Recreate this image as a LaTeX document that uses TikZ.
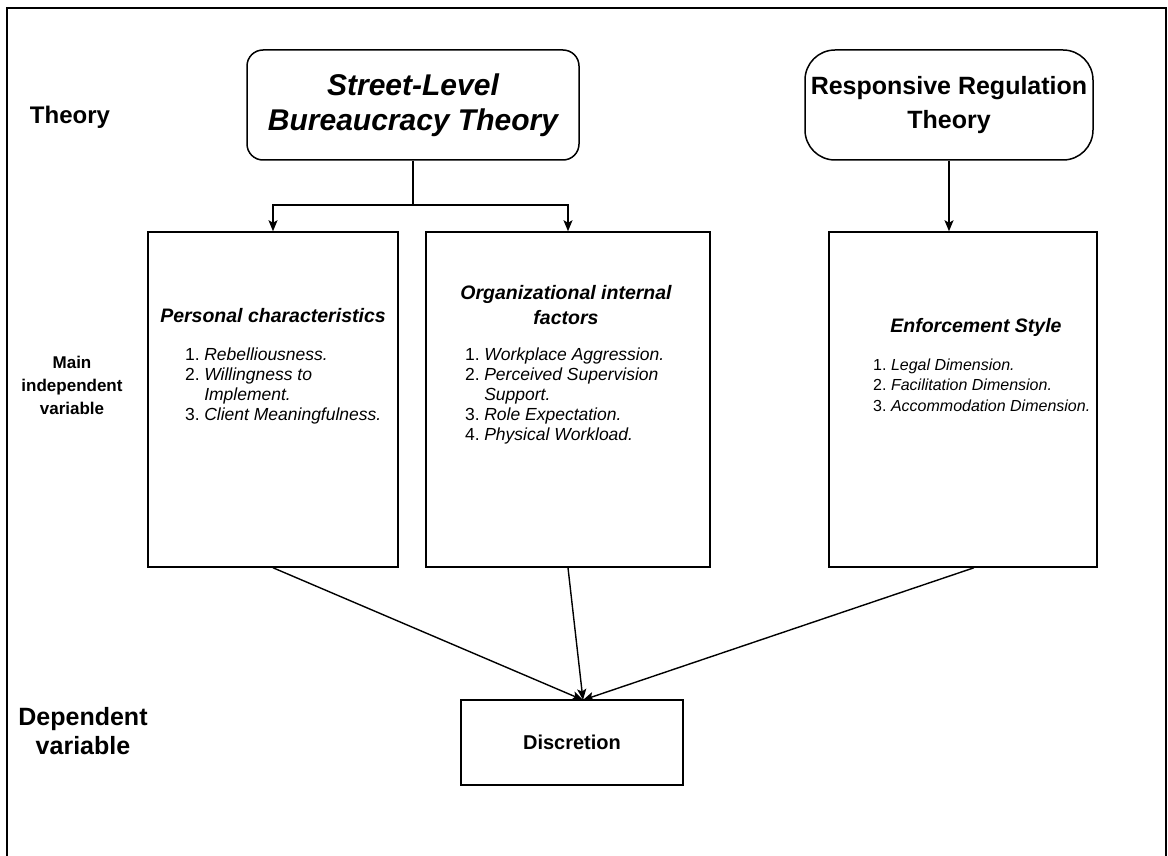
\documentclass[tikz,border=0pt]{standalone}
\usepackage{fontspec}
\setmainfont{Liberation Sans}
\usetikzlibrary{arrows.meta}
\begin{document}
\begin{tikzpicture}[x=1pt,y=-1pt,
  boxs/.style={draw, line width=1.5pt, inner sep=0pt},
  arr/.style={line width=1.4pt, -{Stealth[length=11pt,width=9pt,inset=2.5pt]}},
  lbl/.style={font=\bfseries\fontsize{24}{29}\selectfont, align=center},
  ttl/.style={font=\bfseries\itshape\fontsize{19.5}{25}\selectfont, align=center, inner sep=0pt},
  lst/.style={font=\fontsize{17.5}{20}\selectfont, inner sep=0pt, anchor=base west}]
\useasboundingbox (0,0) rectangle (1168,856);
% frame
\draw[line width=2.2pt] (7,856) -- (7,8) -- (1166,8) -- (1166,856);
% theories
\node[boxs, rounded corners=16pt, minimum width=332pt, minimum height=110pt,
  font=\bfseries\itshape\fontsize{30}{35}\selectfont, align=center] (slb) at (413,105) {Street-Level\\Bureaucracy Theory};
\node[boxs, rounded corners=30pt, minimum width=288pt, minimum height=110pt,
  font=\bfseries\fontsize{25}{34}\selectfont, align=center] (rrt) at (949,105) {Responsive Regulation\\Theory};
% variable boxes
\node[boxs, minimum width=250pt, minimum height=335pt] (b1) at (273,399.5) {};
\node[boxs, minimum width=284pt, minimum height=335pt] (b2) at (568,399.5) {};
\node[boxs, minimum width=268pt, minimum height=335pt] (b3) at (963,399.5) {};
\node[boxs, minimum width=222pt, minimum height=85pt, font=\bfseries\fontsize{20}{24}\selectfont] (disc) at (572,742.5) {Discretion};
% titles
\node[ttl] (t1) at (273,316) {Personal characteristics};
\node[ttl] (t2) at (566,305) {Organizational internal\\factors};
\node[ttl] (t3) at (976,327) {Enforcement Style};
% lists
\node[lst] (l1) at (185,360) {\begin{tabular}[t]{@{}r@{\hspace{4.5pt}}l@{}}
1. & \textit{Rebelliousness.}\\
2. & \textit{Willingness to}\\
   & \textit{Implement.}\\
3. & \textit{Client Meaningfulness.}
\end{tabular}};
\node[lst] (l2) at (465,360) {\begin{tabular}[t]{@{}r@{\hspace{4.5pt}}l@{}}
1. & \textit{Workplace Aggression.}\\
2. & \textit{Perceived Supervision}\\
   & \textit{Support.}\\
3. & \textit{Role Expectation.}\\
4. & \textit{Physical Workload.}
\end{tabular}};
\node[lst, font=\fontsize{16}{20.5}\selectfont] (l3) at (873,370) {\begin{tabular}[t]{@{}r@{\hspace{4.5pt}}l@{}}
1. & \textit{Legal Dimension.}\\
2. & \textit{Facilitation Dimension.}\\
3. & \textit{Accommodation Dimension.}
\end{tabular}};
% left labels
\node[lbl] (theory) at (70,117) {Theory};
\node[font=\bfseries\fontsize{17}{23}\selectfont, align=center] (miv) at (72,385) {Main\\independent\\variable};
\node[lbl, font=\bfseries\fontsize{25}{29}\selectfont] (dv) at (83,731) {Dependent\\variable};
% connectors
\coordinate (j) at (413,205);
\coordinate (d) at (583,700);
\draw[line width=1.4pt] (slb.south) -- (j);
\draw[arr] (j) -| (b1.north);
\draw[arr] (j) -| (b2.north);
\draw[arr] (rrt.south) -- (rrt.south |- b3.north);
\draw[arr] (b1.south) -- (d);
\draw[arr] (b2.south) -- (d);
\draw[arr] ([xshift=11pt]b3.south) -- (d);
\end{tikzpicture}
\end{document}
